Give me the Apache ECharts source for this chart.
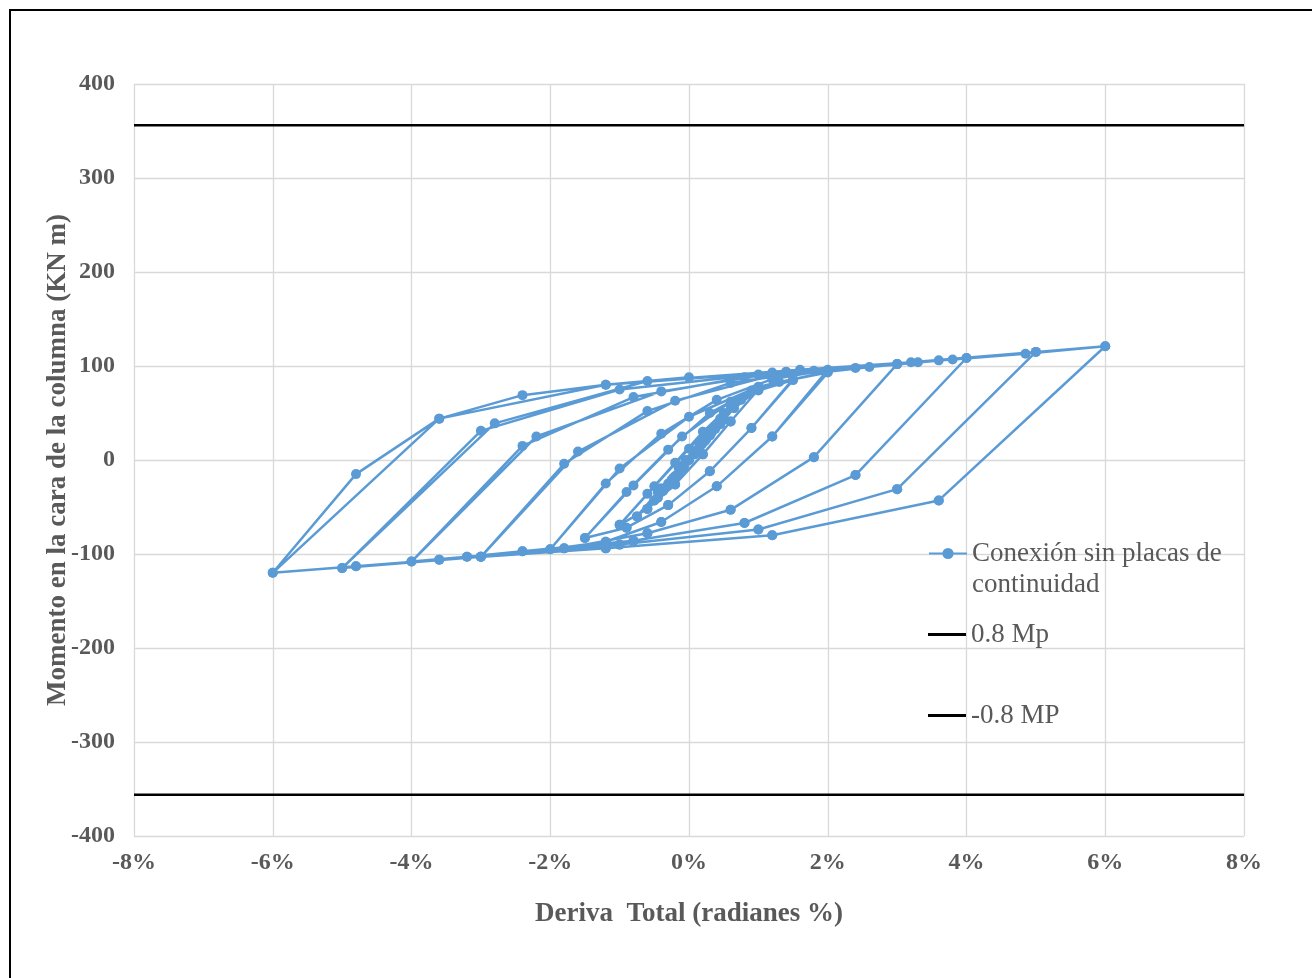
<!DOCTYPE html>
<html>
<head>
<meta charset="utf-8">
<title>Momento vs deriva</title>
<script src="https://cdn.jsdelivr.net/npm/echarts@6/dist/echarts.min.js"></script>
<style>
    html, body { margin: 0; padding: 0; background: #fff; }
    #chart { position: absolute; left: 0; top: 0; width: 1312px; height: 978px; }
    #marco { position: absolute; left: 9px; top: 9px; width: 1320px; height: 990px;
             border-left: 2px solid #000; border-top: 2px solid #000; pointer-events: none; }
</style>
</head>
<body>
<div id="chart"></div>
<div id="marco"></div>
<script>
// amplitudes del protocolo (deriva %)
var amplitudes = [0.375, 0.5, 0.75, 1, 1.5, 2, 3, 4, 5, 6];

// arranque desde cero hasta el primer pico [deriva %, momento kN m]
var inicio = [[0, 0], [0.19, 17], [0.375, 33]];

// descarga: de +p a -p (una fila por amplitud)
var descarga = [
    [[0.225, 20], [0.075, 6], [-0.075, -7], [-0.225, -20], [-0.375, -33]],
    [[0.3, 26], [0.1, 9], [-0.1, -9], [-0.3, -27], [-0.5, -43]],
    [[0.45, 38], [0.15, 11], [-0.15, -15], [-0.45, -40], [-0.75, -60]],
    [[0.6, 41], [0.2, 6], [-0.2, -26], [-0.6, -52], [-1.0, -69]],
    [[0.9, 34], [0.3, -12], [-0.3, -48], [-0.9, -72], [-1.5, -83]],
    [[1.2, 25], [0.4, -28], [-0.4, -66], [-1.2, -87], [-2.0, -95]],
    [[1.8, 3], [0.6, -53], [-0.6, -78], [-1.8, -94], [-3.0, -103]],
    [[2.4, -16], [0.8, -67], [-0.8, -86], [-2.4, -97], [-3.2, -103], [-4.0, -108]],
    [[3.0, -31], [1.0, -74], [-1.0, -90], [-3.0, -103], [-5.0, -115]],
    [[3.6, -43], [1.2, -80], [-1.2, -94], [-3.6, -106], [-4.8, -113], [-6.0, -120]]
];

// recarga: de -p a +p (misma amplitud)
var recarga = [
    [[-0.225, -19], [-0.075, -5], [0.075, 8], [0.225, 21], [0.375, 33]],
    [[-0.3, -25], [-0.1, -7], [0.1, 10], [0.3, 27], [0.5, 43]],
    [[-0.45, -34], [-0.15, -8], [0.15, 18], [0.45, 44], [0.75, 65]],
    [[-0.6, -36], [-0.2, -3], [0.2, 30], [0.6, 58], [1.0, 75]],
    [[-0.9, -34], [-0.3, 11], [0.3, 50], [0.9, 74], [1.5, 86]],
    [[-1.2, -25], [-0.4, 28], [0.4, 64], [1.2, 86], [2.0, 96]],
    [[-1.8, -4], [-0.6, 52], [0.6, 82], [1.8, 95], [3.0, 102]],
    [[-2.4, 15], [-0.8, 67], [0.8, 88], [2.4, 98], [3.3, 104], [4.0, 108.5]],
    [[-3.0, 31], [-1.0, 75], [1.0, 91], [3.0, 102], [5.0, 115]],
    [[-3.6, 44], [-1.2, 80], [1.2, 93], [3.6, 106], [6.0, 121]]
];

// paso: de -p al pico positivo de la amplitud siguiente
var paso = [
    [[-0.2, -17], [-0.025, -1], [0.15, 14], [0.325, 29], [0.5, 43]],
    [[-0.25, -21], [0, 0], [0.25, 22], [0.5, 44], [0.75, 64]],
    [[-0.4, -30], [-0.05, 0], [0.3, 28], [0.65, 55], [1.0, 75]],
    [[-0.5, -28], [0, 12], [0.5, 50], [1.0, 74], [1.5, 85]],
    [[-0.8, -27], [-0.1, 25], [0.6, 62], [1.3, 83], [2.0, 93]],
    [[-1.0, -9], [0, 46], [1.0, 78], [2.0, 94], [3.0, 102]],
    [[-1.6, 9], [-0.2, 63], [1.2, 90], [2.6, 99], [4.0, 108.5]],
    [[-2.2, 25], [-0.4, 73], [1.4, 94], [3.2, 104], [5.0, 115]],
    [[-2.8, 39], [-0.6, 84], [1.6, 96], [3.8, 107], [4.85, 113], [6.0, 121]]
];

// regreso final desde -6 %
var regresoFinal = [[-4.8, -15], [-3.6, 44], [-2.4, 69], [-1.2, 80], [0, 88]];

// 0.8 Mp
var mp08 = 356;
var limitesX = [-8, 8];

var historia = inicio.slice();
for (var i = 0; i < amplitudes.length; i++) {
    historia = historia.concat(descarga[i], recarga[i], descarga[i]);
    if (i < paso.length) {
        historia = historia.concat(paso[i]);
    } else {
        historia = historia.concat(regresoFinal);
    }
}

var serif = '"Liberation Serif", "Times New Roman", serif';
var gris = '#595959';

var chart = echarts.init(document.getElementById('chart'));
var legendText = { fontFamily: serif, fontSize: 27, color: gris, lineHeight: 31 };

var option = {
    animation: false,
    backgroundColor: '#fff',
    grid: { left: 134, right: 68, top: 84, bottom: 142 },
    legend: [{
        data: ['Conexión sin placas de continuidad'],
        left: 928, top: 507, padding: 0,
        itemWidth: 38, itemHeight: 14,
        // linea vacia arriba para que el icono quede en la primera linea
        formatter: function () { return ' \nConexión sin placas de\ncontinuidad'; },
        textStyle: legendText
    }, {
        data: [{ name: '0.8 Mp', icon: 'rect' }],
        left: 928, top: 619, padding: 0,
        itemWidth: 38, itemHeight: 3,
        textStyle: legendText
    }, {
        data: [{ name: '-0.8 MP', icon: 'rect' }],
        left: 928, top: 700, padding: 0,
        itemWidth: 38, itemHeight: 3,
        textStyle: legendText
    }],
    xAxis: {
        type: 'value',
        min: limitesX[0], max: limitesX[1], interval: 2,
        name: 'Deriva  Total (radianes %)',
        nameLocation: 'middle', nameGap: 65,
        nameTextStyle: { fontFamily: serif, fontWeight: 'bold', fontSize: 27, color: gris },
        axisLine: { show: false },
        axisTick: { show: false },
        axisLabel: {
            margin: 15, fontFamily: serif, fontWeight: 'bold', fontSize: 24, color: gris,
            formatter: function (v) { return v + '%'; }
        },
        splitLine: { lineStyle: { color: '#d9d9d9', width: 1.3 } }
    },
    yAxis: {
        type: 'value',
        min: -400, max: 400, interval: 100,
        name: 'Momento en la cara de la columna (KN m)',
        nameLocation: 'middle', nameGap: 62,
        nameMoveOverlap: false,
        nameTextStyle: { fontFamily: serif, fontWeight: 'bold', fontSize: 27, color: gris },
        axisLine: { show: false },
        axisTick: { show: false },
        axisLabel: { margin: 19, fontFamily: serif, fontWeight: 'bold', fontSize: 24, color: gris },
        splitLine: { lineStyle: { color: '#d9d9d9', width: 1.3 } }
    },
    series: [{
        name: 'Conexión sin placas de continuidad',
        type: 'line',
        data: historia,
        symbol: 'circle',
        symbolSize: 10,
        itemStyle: { color: '#5b9bd5' },
        lineStyle: { color: '#5b9bd5', width: 2.5 },
        silent: true
    }, {
        name: '0.8 Mp',
        type: 'line',
        data: [[limitesX[0], mp08], [limitesX[1], mp08]],
        symbol: 'none',
        itemStyle: { color: '#000' },
        lineStyle: { color: '#000', width: 2.5 },
        silent: true
    }, {
        name: '-0.8 MP',
        type: 'line',
        data: [[limitesX[0], -mp08], [limitesX[1], -mp08]],
        symbol: 'none',
        itemStyle: { color: '#000' },
        lineStyle: { color: '#000', width: 2.5 },
        silent: true
    }]
};
chart.setOption(option);
</script>
</body>
</html>
